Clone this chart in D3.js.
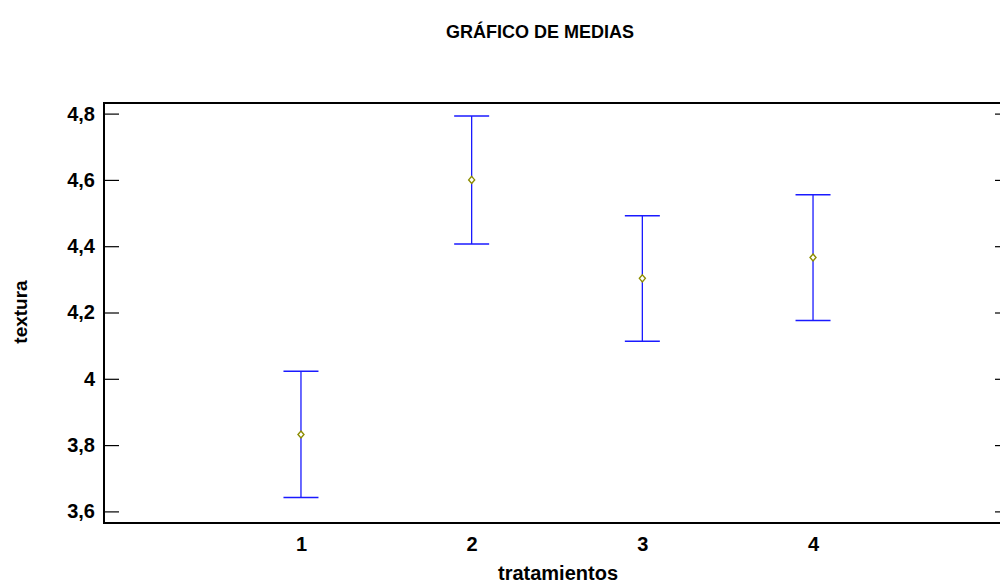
<!DOCTYPE html>
<html>
<head>
<meta charset="utf-8">
<script src="https://cdn.jsdelivr.net/npm/d3@7"></script>
<style>
  html, body { margin: 0; padding: 0; background: #fff; }
  svg { display: block; }
  text { font-family: "Liberation Sans", Arial, Helvetica, sans-serif; font-weight: bold; fill: #000; }
</style>
</head>
<body>
<svg id="chart" width="1000" height="583"></svg>
<script>
// Treatment means of "textura" with their interval limits
const tratamientos = [1, 2, 3, 4];
const medias   = [3.832, 4.600, 4.303, 4.366];
const inferior = [3.642, 4.407, 4.113, 4.176];
const superior = [4.023, 4.793, 4.492, 4.555];
const yTicks = [3.6, 3.8, 4.0, 4.2, 4.4, 4.6, 4.8];

const svg = d3.select("#chart");
const margin = { left: 104, right: -10, top: 103, bottom: 60 };
const W = 1000, H = 583;

const x = d3.scaleLinear().domain([-0.154, 5.154]).range([margin.left, W - margin.right]);
const y = d3.scaleLinear().domain([3.565, 4.832]).range([H - margin.bottom, margin.top]);

const fmt = d => String(+d.toFixed(1)).replace(".", ",");

// Frame
svg.append("rect")
  .attr("x", x.range()[0]).attr("y", y.range()[1])
  .attr("width", x.range()[1] - x.range()[0])
  .attr("height", y.range()[0] - y.range()[1])
  .attr("fill", "none").attr("stroke", "#000").attr("stroke-width", 2);

// Left axis: inward ticks, labels outside
const yAxisL = d3.axisLeft(y).tickValues(yTicks).tickSize(-15).tickPadding(9).tickFormat(fmt);
const gL = svg.append("g").attr("transform", `translate(${x.range()[0]},0)`).call(yAxisL);
gL.select(".domain").remove();
gL.selectAll(".tick line").attr("stroke", "#000").attr("stroke-width", 1.2);
gL.selectAll(".tick text").style("font-size", "20px").attr("x", -9);

// Right axis: inward ticks only
const yAxisR = d3.axisRight(y).tickValues(yTicks).tickSize(-15).tickFormat("");
const gR = svg.append("g").attr("transform", `translate(${x.range()[1]},0)`).call(yAxisR);
gR.select(".domain").remove();
gR.selectAll(".tick line").attr("stroke", "#000").attr("stroke-width", 1.2);

// Bottom axis labels
const xAxis = d3.axisBottom(x).tickValues(tratamientos).tickSize(0).tickPadding(14).tickFormat(d3.format("d"));
const gB = svg.append("g").attr("transform", `translate(0,${y.range()[0]})`).call(xAxis);
gB.select(".domain").remove();
gB.selectAll(".tick text").style("font-size", "20px");

// Interval bars
const capHalf = 17.5;
const bars = svg.append("g").selectAll("g").data(tratamientos).join("g");
bars.append("line")
  .attr("x1", (d) => x(d)).attr("x2", (d) => x(d))
  .attr("y1", (d, i) => y(superior[i])).attr("y2", (d, i) => y(inferior[i]))
  .attr("stroke", "#1a1aff").attr("stroke-width", 1.3);
bars.append("line")
  .attr("x1", (d) => x(d) - capHalf).attr("x2", (d) => x(d) + capHalf)
  .attr("y1", (d, i) => y(superior[i])).attr("y2", (d, i) => y(superior[i]))
  .attr("stroke", "#1a1aff").attr("stroke-width", 1.5);
bars.append("line")
  .attr("x1", (d) => x(d) - capHalf).attr("x2", (d) => x(d) + capHalf)
  .attr("y1", (d, i) => y(inferior[i])).attr("y2", (d, i) => y(inferior[i]))
  .attr("stroke", "#1a1aff").attr("stroke-width", 1.5);

// Mean markers (small diamonds)
bars.append("path")
  .attr("d", (d, i) => {
    const cx = x(d), cy = y(medias[i]), r = 3.5;
    return `M${cx},${cy - r}L${cx + r - 0.5},${cy}L${cx},${cy + r}L${cx - r + 0.5},${cy}Z`;
  })
  .attr("fill", "#fff").attr("stroke", "#8c8c00").attr("stroke-width", 1.4);

// Titles
svg.append("text").attr("x", 540).attr("y", 38).attr("text-anchor", "middle")
  .style("font-size", "18px").text("GRÁFICO DE MEDIAS");
svg.append("text").attr("x", 558).attr("y", 580).attr("text-anchor", "middle")
  .style("font-size", "20px").text("tratamientos");
svg.append("text").attr("transform", "translate(27,312) rotate(-90)").attr("text-anchor", "middle")
  .style("font-size", "19px").text("textura");
</script>
</body>
</html>
